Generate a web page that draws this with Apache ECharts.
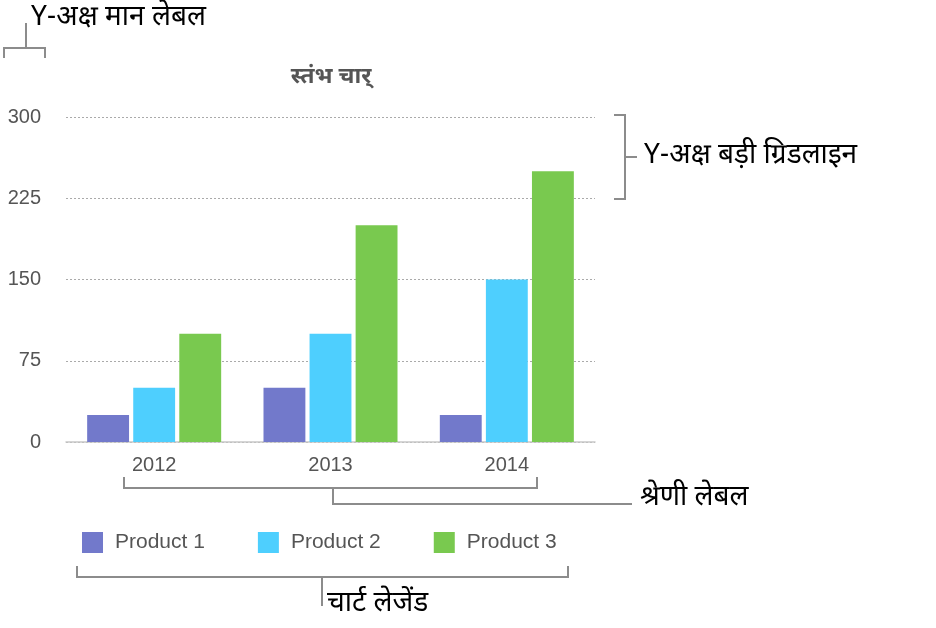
<!DOCTYPE html>
<html><head><meta charset="utf-8">
<script src="https://cdn.jsdelivr.net/npm/echarts@6/dist/echarts.min.js"></script>
<style>html,body{margin:0;padding:0;background:#fff}#c{width:936px;height:628px}</style>
</head><body><div id="c"></div>
<script>
const categories = ['2012', '2013', '2014'];
const seriesNames = ['Product 1', 'Product 2', 'Product 3'];
const product1 = [25, 50, 25];
const product2 = [50, 100, 150];
const product3 = [100, 200, 250];
const yMin = 0, yMax = 300, yStep = 75;
const titleText = 'स्तंभ चार्';
const noteYLabels = 'Y-अक्ष मान लेबल';
const noteGridlines = 'Y-अक्ष बड़ी ग्रिडलाइन';
const noteCategory = 'श्रेणी लेबल';
const noteLegend = 'चार्ट लेजेंड';

const colors = ['#7279CB', '#4ECFFE', '#79C94F'];
const latin = '"Liberation Sans", Arial, Helvetica, sans-serif';
const deva = '"Noto Sans Devanagari", "Lohit Devanagari", "FreeSans", "Noto Sans", sans-serif';
const bracketColor = '#8c8c8c';

const chart = echarts.init(document.getElementById('c'), null, {renderer: 'canvas'});
const values = [product1, product2, product3];

function line(points) {
  return {type: 'polyline', shape: {points}, style: {stroke: bracketColor, lineWidth: 2, fill: null}, silent: true};
}
function note(text, x, y) {
  return {type: 'text', x, y, style: {text, fill: '#000', font: '28px ' + deva, textVerticalAlign: 'middle', verticalAlign: 'middle'}, silent: true};
}

chart.setOption({
  animation: false,
  color: colors,
  title: {
    text: titleText, left: 326, top: 62, textAlign: 'center',
    textStyle: {fontSize: 23, fontWeight: 'bold', color: '#555', fontFamily: deva}
  },
  legend: {
    left: 77, top: 527, itemWidth: 21, itemHeight: 21, itemGap: 53, icon: 'rect',
    textStyle: {fontSize: 21, color: '#555', fontFamily: latin, padding: [0, 0, 0, 7]},
    data: seriesNames
  },
  grid: {left: 66, right: 341, top: 117, bottom: 186, containLabel: false},
  xAxis: {
    type: 'category', data: categories,
    axisLine: {lineStyle: {color: '#c8c8c8', width: 1.5}},
    axisTick: {show: false},
    axisLabel: {fontSize: 20, color: '#555', fontFamily: latin, margin: 13}
  },
  yAxis: {
    type: 'value', min: yMin, max: yMax, interval: yStep,
    axisLine: {show: false}, axisTick: {show: false},
    axisLabel: {fontSize: 20, color: '#555', fontFamily: latin, margin: 25},
    splitLine: {lineStyle: {color: '#aaa', type: [2, 2], width: 1}}
  },
  series: seriesNames.map((n, i) => ({
    name: n, type: 'bar', data: values[i],
    barCategoryGap: '24%', barGap: '10%'
  })),
  graphic: [
    line([[26, 23], [26, 48]]),
    line([[4, 58], [4, 48], [45, 48], [45, 58]]),
    note(noteYLabels, 31, 20),
    line([[614, 115], [625, 115], [625, 199], [614, 199]]),
    line([[625, 157], [637, 157]]),
    note(noteGridlines, 644, 158),
    line([[124, 477], [124, 488], [537, 488], [537, 477]]),
    line([[333, 488], [333, 504], [632, 504]]),
    note(noteCategory, 640, 500),
    line([[77, 566], [77, 577], [568, 577], [568, 566]]),
    line([[322, 577], [322, 606]]),
    note(noteLegend, 327, 606)
  ]
});
</script>
</body></html>
